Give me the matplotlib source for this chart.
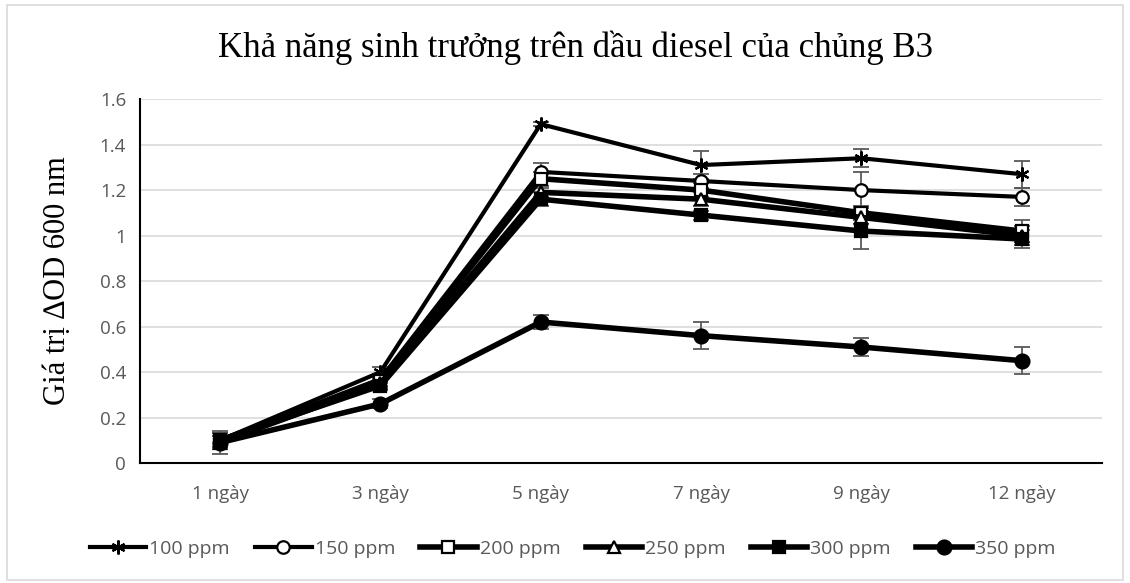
import matplotlib.pyplot as plt
import numpy as np
from matplotlib.patches import Rectangle

# growth of strain B3 on diesel, delta OD600 by day
days = ['1 ngày', '3 ngày', '5 ngày', '7 ngày', '9 ngày', '12 ngày']
conc = ['100 ppm', '150 ppm', '200 ppm', '250 ppm', '300 ppm', '350 ppm']

od_100 = [0.10, 0.40, 1.49, 1.31, 1.34, 1.27]
od_150 = [0.10, 0.37, 1.28, 1.24, 1.20, 1.17]
od_200 = [0.10, 0.36, 1.25, 1.20, 1.10, 1.02]
od_250 = [0.09, 0.35, 1.19, 1.16, 1.08, 1.00]
od_300 = [0.10, 0.34, 1.16, 1.09, 1.02, 0.985]
od_350 = [0.09, 0.26, 0.62, 0.56, 0.51, 0.45]

err_100 = [0.03, 0.02, 0.01, 0.06, 0.04, 0.06]
err_150 = [0.03, 0.02, 0.04, 0.03, 0.08, 0.04]
err_200 = [0.03, 0.02, 0.03, 0.03, 0.03, 0.05]
err_250 = [0.03, 0.02, 0.02, 0.03, 0.03, 0.04]
err_300 = [0.03, 0.02, 0.03, 0.02, 0.08, 0.04]
err_350 = [0.05, 0.02, 0.03, 0.06, 0.04, 0.06]

series = [od_100, od_150, od_200, od_250, od_300, od_350]
errors = [err_100, err_150, err_200, err_250, err_300, err_350]
markers = [(6, 2, 0), 'o', 's', '^', 's', 'o']
faces = ['black', 'white', 'white', 'white', 'black', 'black']
msizes = [10, 9, 8, 8, 9, 10]
widths = [3.0, 3.0, 4.0, 4.0, 4.0, 4.0]

fig = plt.figure(figsize=(11.3, 5.83), dpi=100)
ax = fig.add_axes([0.1239, 0.2058, 0.8511, 0.6242])

x = np.arange(len(days))
for i in range(len(series)):
    ax.errorbar(x, series[i], yerr=errors[i], fmt='none', ecolor='#595959',
                elinewidth=1.3, capsize=6, capthick=1.3, zorder=2)
for i in range(len(series)):
    ax.plot(x, series[i], color='black', lw=widths[i], marker=markers[i],
            ms=msizes[i], mfc=faces[i], mec='black', mew=1.6,
            label=conc[i], zorder=3)

ax.set_xlim(-0.5, len(days) - 0.5)
ax.set_ylim(0, 1.6)
ax.set_xticks(x)
ax.set_xticklabels(days)
ax.set_yticks(np.arange(0, 1.61, 0.2))
ax.set_yticklabels(['0', '0.2', '0.4', '0.6', '0.8', '1', '1.2', '1.4', '1.6'])
ax.tick_params(length=0, labelsize=13.5, colors='#595959', pad=10)
ax.tick_params(axis='x', pad=16)
for lab in ax.get_xticklabels() + ax.get_yticklabels():
    lab.set_family('Open Sans')
ax.grid(axis='y', color='#d9d9d9', lw=1.2)
ax.set_axisbelow(True)
for s in ['top', 'right']:
    ax.spines[s].set_visible(False)
for s in ['left', 'bottom']:
    ax.spines[s].set_color('black')
    ax.spines[s].set_linewidth(1.5)

ax.set_ylabel('Giá trị ∆OD 600 nm', family='Liberation Serif', fontsize=22,
              labelpad=20)
fig.text(0.509, 0.918, 'Khả năng sinh trưởng trên dầu diesel của chủng B3',
         family='Liberation Serif', fontsize=25, ha='center', va='center')

leg = fig.legend(loc='center', bbox_to_anchor=(0.507, 0.058), ncol=6,
                 frameon=False, handlelength=2.9, columnspacing=1.3,
                 handletextpad=0.15, prop={'family': 'Open Sans', 'size': 14})
for t in leg.get_texts():
    t.set_color('#595959')

# thin gray frame around the whole chart
fig.patches.append(Rectangle((0.006, 0.006), 0.988, 0.986, transform=fig.transFigure,
                             fill=False, ec='#d9d9d9', lw=1.2))

fig.savefig('out.png', dpi=100)
